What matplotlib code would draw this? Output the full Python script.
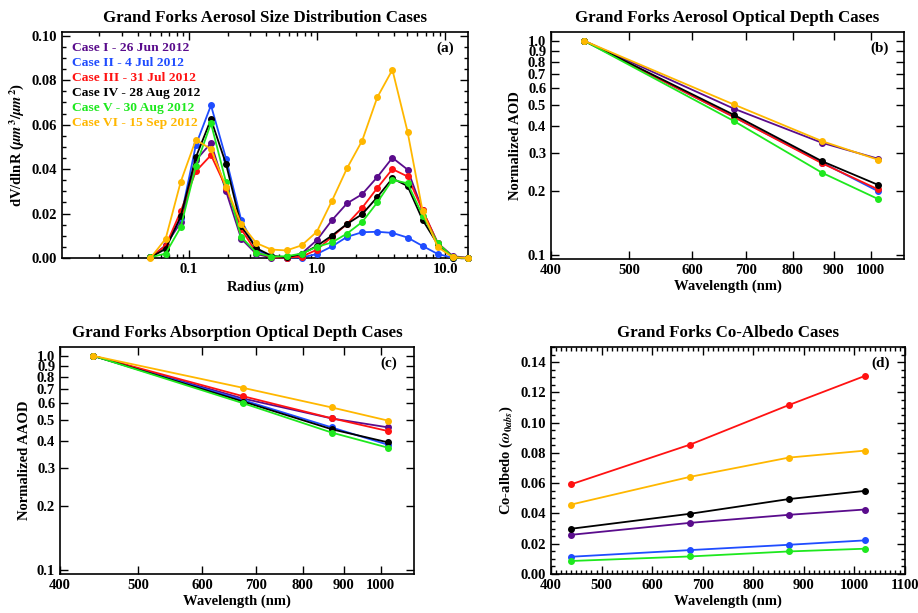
import numpy as np
import matplotlib
matplotlib.use("Agg")
import matplotlib.pyplot as plt
from matplotlib.ticker import MultipleLocator, LogLocator, NullLocator, FixedLocator

plt.rcParams['font.family'] = ['Liberation Serif', 'DejaVu Serif']
plt.rcParams['font.weight'] = 'bold'
plt.rcParams['mathtext.fontset'] = 'stix'

# ---- data ----
case_labels = ["Case I - 26 Jun 2012", "Case II - 4 Jul 2012", "Case III - 31 Jul 2012",
               "Case IV - 28 Aug 2012", "Case V - 30 Aug 2012", "Case VI - 15 Sep 2012"]
case_colors = ["#5a0c8c", "#1f4cff", "#ff1212", "#000000", "#1ee81e", "#ffb700"]

radius = [0.05, 0.065604, 0.086077, 0.112939, 0.148184, 0.194429, 0.255105, 0.334716,
          0.439173, 0.576227, 0.756052, 0.991996, 1.301571, 1.707757, 2.240702, 2.939966,
          3.857452, 5.06126, 6.640745, 8.713145, 11.432287, 15.0]

psd_case1 = [0.0003, 0.0057, 0.0160, 0.0440, 0.0517, 0.0300, 0.0087, 0.0018, 0.0002, 0.0002, 0.0020,
             0.0080, 0.0170, 0.0246, 0.0287, 0.0364, 0.0451, 0.0398, 0.0214, 0.0067, 0.0008, 0.0001]
psd_case2 = [0.0003, 0.0050, 0.0180, 0.0508, 0.0687, 0.0447, 0.0171, 0.0037, 0.0008, 0.0002, 0.0002,
             0.0018, 0.0052, 0.0095, 0.0116, 0.0118, 0.0113, 0.0092, 0.0054, 0.0018, 0.0001, 0.0000]
psd_case3 = [0.0003, 0.0054, 0.0210, 0.0390, 0.0463, 0.0317, 0.0130, 0.0026, 0.0003, 0.0002, 0.0006,
             0.0037, 0.0095, 0.0153, 0.0226, 0.0315, 0.0400, 0.0367, 0.0214, 0.0067, 0.0003, 0.0000]
psd_case4 = [0.0003, 0.0041, 0.0187, 0.0453, 0.0624, 0.0422, 0.0144, 0.0044, 0.0010, 0.0003, 0.0018,
             0.0054, 0.0101, 0.0153, 0.0197, 0.0274, 0.0358, 0.0324, 0.0171, 0.0061, 0.0002, 0.0000]
psd_case5 = [0.0003, 0.0020, 0.0139, 0.0413, 0.0606, 0.0340, 0.0095, 0.0024, 0.0006, 0.0008, 0.0020,
             0.0050, 0.0070, 0.0110, 0.0162, 0.0250, 0.0352, 0.0336, 0.0191, 0.0067, 0.0003, 0.0000]
psd_case6 = [0.0000, 0.0086, 0.0343, 0.0532, 0.0490, 0.0320, 0.0153, 0.0067, 0.0038, 0.0034, 0.0057,
             0.0118, 0.0257, 0.0404, 0.0528, 0.0723, 0.0847, 0.0569, 0.0210, 0.0049, 0.0003, 0.0000]

wavelength = [440, 675, 870, 1020]

aod_case1 = [1.0, 0.483, 0.334, 0.282]
aod_case2 = [1.0, 0.442, 0.270, 0.199]
aod_case3 = [1.0, 0.442, 0.268, 0.203]
aod_case4 = [1.0, 0.452, 0.274, 0.213]
aod_case5 = [1.0, 0.423, 0.242, 0.183]
aod_case6 = [1.0, 0.505, 0.340, 0.279]

aaod_case1 = [1.0, 0.632, 0.510, 0.464]
aaod_case2 = [1.0, 0.621, 0.463, 0.385]
aaod_case3 = [1.0, 0.648, 0.511, 0.446]
aaod_case4 = [1.0, 0.612, 0.454, 0.395]
aaod_case5 = [1.0, 0.601, 0.438, 0.373]
aaod_case6 = [1.0, 0.709, 0.574, 0.499]

coalb_case1 = [0.0259, 0.0338, 0.0391, 0.0426]
coalb_case2 = [0.0114, 0.0158, 0.0193, 0.0222]
coalb_case3 = [0.0593, 0.0855, 0.1116, 0.1308]
coalb_case4 = [0.0299, 0.0398, 0.0495, 0.0549]
coalb_case5 = [0.0086, 0.0116, 0.0149, 0.0167]
coalb_case6 = [0.0459, 0.0642, 0.0769, 0.0815]

psd_all = [psd_case1, psd_case2, psd_case3, psd_case4, psd_case5, psd_case6]
aod_all = [aod_case1, aod_case2, aod_case3, aod_case4, aod_case5, aod_case6]
aaod_all = [aaod_case1, aaod_case2, aaod_case3, aaod_case4, aaod_case5, aaod_case6]
coalb_all = [coalb_case1, coalb_case2, coalb_case3, coalb_case4, coalb_case5, coalb_case6]

norm_ticks = [0.1, 0.2, 0.3, 0.4, 0.5, 0.6, 0.7, 0.8, 0.9, 1.0]
wl_ticks = [400, 500, 600, 700, 800, 900, 1000]

FS = 10.5
TFS = 12.2
W, H = 918, 613


def frame(l, r, t, b):
    return [l / W, 1 - b / H, (r - l) / W, (b - t) / H]


def style(ax):
    ax.tick_params(which='both', direction='in', top=True, right=True, labelsize=FS,
                   width=1.0, colors='black')
    ax.tick_params(which='major', length=6)
    ax.tick_params(which='minor', length=3)
    for sp in ax.spines.values():
        sp.set_linewidth(1.2)
    for lab in ax.get_xticklabels() + ax.get_yticklabels():
        lab.set_fontweight('bold')


def draw_lines(ax, x, series):
    for ys, c in zip(series, case_colors):
        ax.plot(x, ys, '-o', color=c, lw=1.3, ms=4, clip_on=False, zorder=3)


fig = plt.figure(figsize=(W / 100, H / 100), dpi=100)

# (a) size distribution
ax = fig.add_axes(frame(62, 468, 32, 258))
draw_lines(ax, radius, psd_all)
ax.set_xscale('log')
ax.set_xlim(0.0102, 15)
ax.set_ylim(0, 0.1017)
ax.set_xticks([0.1, 1.0, 10.0])
ax.set_xticklabels(['0.1', '1.0', '10.0'])
ax.xaxis.set_minor_locator(LogLocator(base=10, subs=np.arange(2, 10)))
ax.xaxis.set_minor_formatter(plt.NullFormatter())
ax.yaxis.set_major_locator(MultipleLocator(0.02))
ax.yaxis.set_minor_locator(MultipleLocator(0.005))
ax.set_yticklabels([f"{v:.2f}" for v in ax.get_yticks()])
ax.set_xlabel(r'Radius ($\mu$m)', fontsize=FS, fontweight='bold', labelpad=2)
ax.set_ylabel(r'dV/dlnR ($\mu m^3/\mu m^2$)', fontsize=FS, fontweight='bold')
ax.set_title('Grand Forks Aerosol Size Distribution Cases', fontsize=TFS, fontweight='bold', pad=7)
for i, (lab, c) in enumerate(zip(case_labels, case_colors)):
    ax.text(0.025, 0.929 - i * 0.0664, lab, color=c, fontsize=9.7, fontweight='bold',
            transform=ax.transAxes, va='center')
ax.text(0.945, 0.929, '(a)', fontsize=11, fontweight='bold', transform=ax.transAxes,
        ha='center', va='center')
style(ax)


def log_panel(ax, series, ylabel, title, tag):
    draw_lines(ax, wavelength, series)
    ax.set_xscale('log')
    ax.set_yscale('log')
    ax.set_xlim(400, 1100)
    ax.set_ylim(0.0958, 1.1)
    ax.xaxis.set_major_locator(FixedLocator(wl_ticks))
    ax.xaxis.set_minor_locator(NullLocator())
    ax.set_xticklabels([str(v) for v in wl_ticks])
    ax.yaxis.set_major_locator(FixedLocator(norm_ticks))
    ax.yaxis.set_minor_locator(NullLocator())
    ax.set_yticklabels([f"{v:.1f}" for v in norm_ticks])
    ax.set_xlabel('Wavelength (nm)', fontsize=FS, fontweight='bold', labelpad=2)
    ax.set_ylabel(ylabel, fontsize=FS, fontweight='bold')
    ax.set_title(title, fontsize=TFS, fontweight='bold', pad=7)
    ax.text(0.93, 0.93, tag, fontsize=11, fontweight='bold', transform=ax.transAxes,
            ha='center', va='center')
    style(ax)


# (b) AOD
ax = fig.add_axes(frame(551, 904, 32, 259))
log_panel(ax, aod_all, 'Normalized AOD', 'Grand Forks Aerosol Optical Depth Cases', '(b)')

# (c) AAOD
ax = fig.add_axes(frame(60, 414, 347, 574))
log_panel(ax, aaod_all, 'Normalized AAOD', 'Grand Forks Absorption Optical Depth Cases', '(c)')

# (d) co-albedo
ax = fig.add_axes(frame(551, 905, 347, 574))
draw_lines(ax, wavelength, coalb_all)
ax.set_xlim(400, 1100)
ax.set_ylim(0, 0.15)
ax.xaxis.set_major_locator(MultipleLocator(100))
ax.xaxis.set_minor_locator(MultipleLocator(10))
ax.yaxis.set_major_locator(MultipleLocator(0.02))
ax.yaxis.set_minor_locator(MultipleLocator(0.005))
ax.set_xticklabels([f"{int(v)}" for v in ax.get_xticks()])
ax.set_yticklabels([f"{v:.2f}" for v in ax.get_yticks()])
ax.set_xlabel('Wavelength (nm)', fontsize=FS, fontweight='bold', labelpad=2)
ax.set_ylabel(r'Co-albedo ($\omega_{0abs}$)', fontsize=FS, fontweight='bold')
ax.set_title('Grand Forks Co-Albedo Cases', fontsize=TFS, fontweight='bold', pad=7)
ax.text(0.93, 0.93, '(d)', fontsize=11, fontweight='bold', transform=ax.transAxes,
        ha='center', va='center')
style(ax)

fig.savefig('out.png', dpi=100)
